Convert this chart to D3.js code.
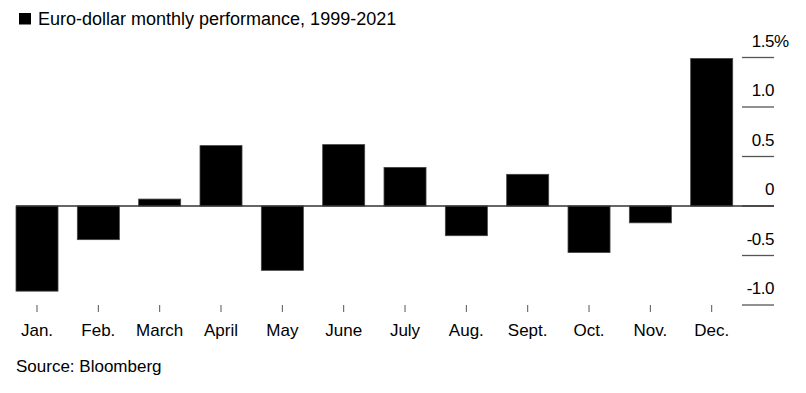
<!DOCTYPE html>
<html>
<head>
<meta charset="utf-8">
<script src="https://cdn.jsdelivr.net/npm/d3@7"></script>
<style>
  body { margin: 0; background: #fff; }
  text { font-family: "Liberation Sans", Arial, sans-serif; fill: #000; }
</style>
</head>
<body>
<div id="chart"></div>
<script>
// Euro-dollar average monthly performance, 1999-2021 (percent)
const months = ["Jan.", "Feb.", "March", "April", "May", "June", "July", "Aug.", "Sept.", "Oct.", "Nov.", "Dec."];
const values = [-0.86, -0.34, 0.07, 0.61, -0.65, 0.62, 0.39, -0.30, 0.32, -0.47, -0.17, 1.49];
const yTicks = [-1.0, -0.5, 0, 0.5, 1.0, 1.5];

const width = 806;
const height = 393;

const svg = d3.select("#chart")
  .append("svg")
  .attr("width", width)
  .attr("height", height);

const x = d3.scaleBand()
  .domain(months)
  .range([16, 732.7])
  .paddingInner(0.315)
  .paddingOuter(0);

const y = d3.scaleLinear()
  .domain([-1, 1.5])
  .range([305, 57.5]);

// plain hyphen for negatives, like the original
const fmt = t => t === 0 ? "0" : t.toFixed(1);

// Legend / title
svg.append("rect")
  .attr("x", 19).attr("y", 13)
  .attr("width", 12).attr("height", 11.5)
  .attr("fill", "#000");

svg.append("text")
  .attr("x", 38).attr("y", 25)
  .style("font-size", "18px")
  .text("Euro-dollar monthly performance, 1999-2021");

// Right-hand y-axis: short tick lines with labels above
const yAxis = svg.append("g");
yTicks.forEach(t => {
  yAxis.append("line")
    .attr("x1", 742).attr("x2", 774)
    .attr("y1", y(t)).attr("y2", y(t))
    .attr("stroke", "#555")
    .attr("stroke-width", 1.3);
  yAxis.append("text")
    .attr("x", 774)
    .attr("y", y(t) - 11)
    .attr("text-anchor", "end")
    .style("font-size", "17px")
    .style("letter-spacing", "-0.5px")
    .text(fmt(t));
  if (t === 1.5) {
    yAxis.append("text")
      .attr("x", 774)
      .attr("y", y(t) - 11)
      .style("font-size", "17px")
      .text("%");
  }
});

// Bars
svg.append("g")
  .selectAll("rect")
  .data(values)
  .join("rect")
  .attr("x", (d, i) => x(months[i]))
  .attr("y", d => y(Math.max(0, d)))
  .attr("width", x.bandwidth())
  .attr("height", d => Math.abs(y(d) - y(0)))
  .attr("fill", "#000")
  .attr("stroke", "#444")
  .attr("stroke-width", 0.8);

// Zero line
svg.append("line")
  .attr("x1", 16).attr("x2", 774)
  .attr("y1", y(0)).attr("y2", y(0))
  .attr("stroke", "#333")
  .attr("stroke-width", 1.3);

// Bottom month ticks and labels
const xAxis = svg.append("g");
months.forEach(m => {
  const cx = x(m) + x.bandwidth() / 2;
  xAxis.append("line")
    .attr("x1", cx).attr("x2", cx)
    .attr("y1", 305).attr("y2", 312)
    .attr("stroke", "#555")
    .attr("stroke-width", 1);
  xAxis.append("text")
    .attr("x", cx)
    .attr("y", 336)
    .attr("text-anchor", "middle")
    .style("font-size", "17px")
    .text(m);
});

// Source
svg.append("text")
  .attr("x", 16).attr("y", 372)
  .style("font-size", "17px")
  .text("Source: Bloomberg");
</script>
</body>
</html>
